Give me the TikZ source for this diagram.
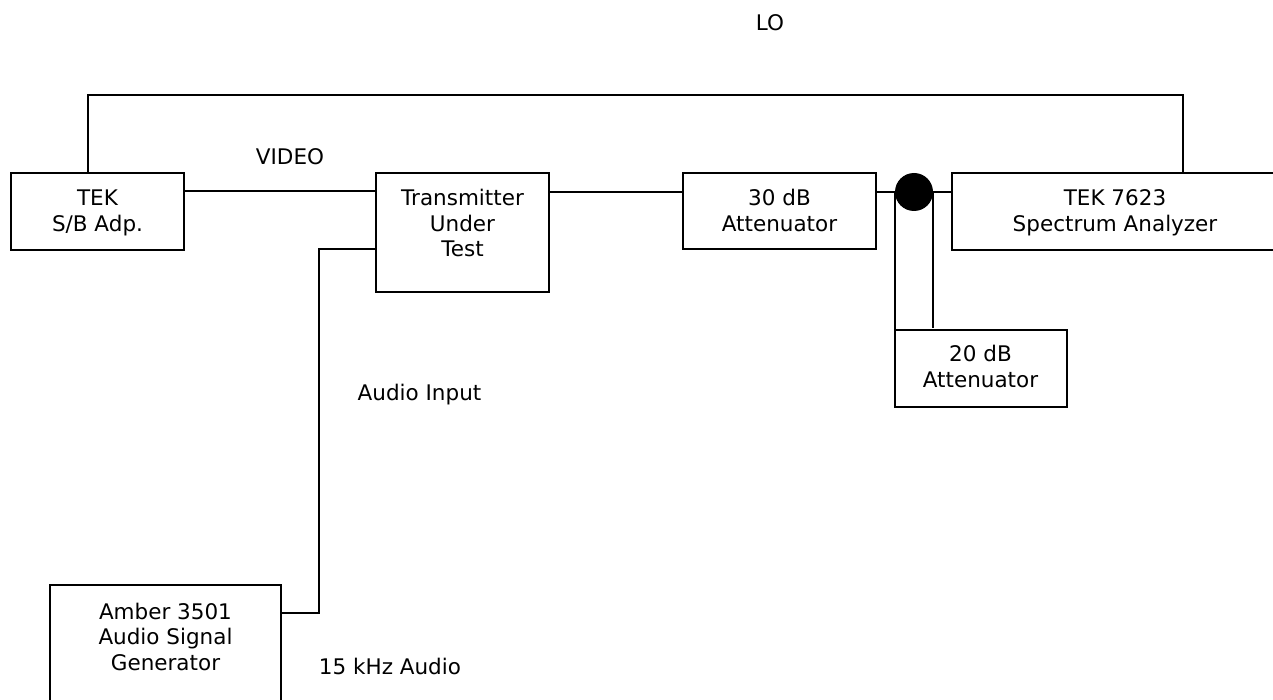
\documentclass[tikz,border=0pt]{standalone}
\usepackage{fontspec}
\setmainfont{DejaVu Sans}
\begin{document}
\begin{tikzpicture}[x=1pt,y=-1pt,
  box/.style={draw, line width=1.9pt, rectangle, inner sep=0pt, outer sep=0pt},
  boxtxt/.style={anchor=north, align=center, inner sep=0pt, font=\fontsize{21.5}{25.5}\selectfont},
  lbl/.style={anchor=base, inner sep=0pt, font=\fontsize{21.5}{25.5}\selectfont},
  wire/.style={line width=1.9pt},
  dot/.style={circle, fill=black, draw=none, minimum size=38pt, inner sep=0pt, outer sep=0pt}]
\useasboundingbox (0,0) rectangle (1273,700);
% boxes
\node[box, minimum width=173pt, minimum height=77pt] (tek) at (97.5,211.5) {};
\node[box, minimum width=173pt, minimum height=119pt] (tx) at (462.5,232.5) {};
\node[box, minimum width=193pt, minimum height=76pt] (att30) at (779.5,211) {};
\node[box, minimum width=323pt, minimum height=77pt] (sa) at (1113.5,211.5) {};
\node[box, minimum width=172pt, minimum height=77pt] (att20) at (981,368.5) {};
\node[box, minimum width=231pt, minimum height=120pt] (amb) at (165.5,645) {};
\node[dot] (j) at (914,192) {};
% box texts
\node[boxtxt] (tekT) at (97.5,187.8) {\strut TEK\\S/B Adp.};
\node[boxtxt] (txT) at (462.5,187.8) {\strut Transmitter\\Under\\Test};
\node[boxtxt] (att30T) at (779.5,187.8) {\strut 30 dB\\Attenuator};
\node[boxtxt] (saT) at (1115,187.8) {\strut TEK 7623\\Spectrum Analyzer};
\node[boxtxt] (att20T) at (980.5,343.8) {\strut 20 dB\\Attenuator};
\node[boxtxt] (ambT) at (165.5,601.3) {\strut Amber 3501\\Audio Signal\\Generator};
% labels
\node[lbl] (lo) at (770,30.8) {LO};
\node[lbl] (video) at (290,164.8) {VIDEO};
\node[lbl] (ain) at (419.5,400.8) {Audio Input};
\node[lbl] (khz) at (390,674.8) {15 kHz Audio};
% connectors
\coordinate (lo1) at (88,95);
\coordinate (lo2) at (1183,95);
\draw[wire] (tek.north -| lo1) -- (lo1) -- (lo2) -- (sa.north -| lo2);
\draw[wire] (tek.east |- 0,191) -- (tx.west |- 0,191);
\draw[wire] (tx.east |- 0,192) -- (att30.west |- 0,192);
\draw[wire] (att30.east |- j) -- (j.west);
\draw[wire] (j.east) -- (sa.west |- j);
\draw[wire] (j.west) -- (j.west |- att20.north);
\coordinate (jr) at (j.east);
\draw[wire] (jr) -- (jr |- 0,328);
\coordinate (a1) at (319,249);
\coordinate (a2) at (319,613);
\draw[wire] (tx.west |- a1) -- (a1) -- (a2) -- (amb.east |- a2);
\end{tikzpicture}
\end{document}
